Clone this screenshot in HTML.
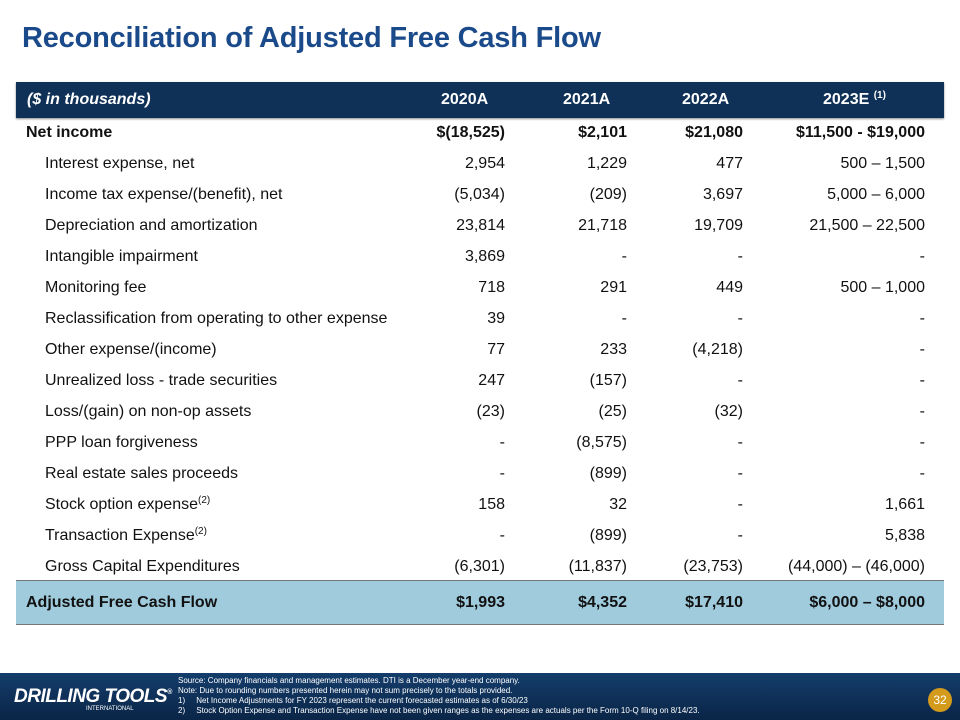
<!DOCTYPE html>
<html><head><meta charset="utf-8"><style>
body{margin:0;width:960px;height:720px;position:relative;background:#fff;font-family:"Liberation Sans",sans-serif;overflow:hidden}
.a{position:absolute;white-space:nowrap}
.t{left:22px;top:22px;font-size:29px;font-weight:bold;color:#1b4a8a;letter-spacing:-0.2px}
.hdr{left:16px;top:82px;width:928px;height:36px;background:#0f3057;box-shadow:0 1px 2px #888}
.h{top:91px;font-size:16px;font-weight:bold;color:#fff}
.row{font-size:16px;color:#111}
sup{font-size:10px;line-height:0;vertical-align:6px}
.adj{left:16px;top:580px;width:928px;height:43px;background:#9fcbdd;border-top:1px solid #777;border-bottom:1px solid #777}
.foot{left:0;top:673px;width:960px;height:47px;background:linear-gradient(#143d6b,#0a2547)}
.fn{color:#fff;font-size:8px;left:178px;line-height:10px}
</style></head><body>
<div class="a t">Reconciliation of Adjusted Free Cash Flow</div>
<div class="a hdr"></div>
<div class="a h" style="left:27px;font-style:italic">($ in thousands)</div>
<div class="a h" style="left:441px">2020A</div>
<div class="a h" style="left:563px">2021A</div>
<div class="a h" style="left:682px">2022A</div>
<div class="a h" style="left:823px">2023E <sup>(1)</sup></div>
<div class="a adj"></div>
<div id="rows"></div>
<div class="a foot"></div>
<div class="a" style="left:14px;top:686px;color:#fff;font-weight:bold;font-style:italic;font-size:19px;letter-spacing:-0.5px">DRILLING TOOLS<span style="font-size:7px;vertical-align:8px">®</span></div>
<div class="a" style="left:86px;top:706px;color:#fff;font-size:6px">INTERNATIONAL</div>
<div class="a fn" style="top:676px">Source: Company financials and management estimates. DTI is a December year-end company.<br>Note: Due to rounding numbers presented herein may not sum precisely to the totals provided.<br>1)&nbsp;&nbsp;&nbsp;&nbsp;&nbsp;Net Income Adjustments for FY 2023 represent the current forecasted estimates as of 6/30/23<br>2)&nbsp;&nbsp;&nbsp;&nbsp;&nbsp;Stock Option Expense and Transaction Expense have not been given ranges as the expenses are actuals per the Form 10-Q filing on 8/14/23.</div>
<div class="a" style="left:928px;top:688px;width:24px;height:24px;border-radius:50%;background:#d39a1c;color:#fff;font-size:12px;text-align:center;line-height:24px">32</div>
<script>
const labels=["Net income","Interest expense, net","Income tax expense/(benefit), net","Depreciation and amortization","Intangible impairment","Monitoring fee","Reclassification from operating to other expense","Other expense/(income)","Unrealized loss - trade securities","Loss/(gain) on non-op assets","PPP loan forgiveness","Real estate sales proceeds","Stock option expense<sup>(2)</sup>","Transaction Expense<sup>(2)</sup>","Gross Capital Expenditures","Adjusted Free Cash Flow"];
const v2020=["$(18,525)","2,954","(5,034)","23,814","3,869","718","39","77","247","(23)","-","-","158","-","(6,301)","$1,993"];
const v2021=["$2,101","1,229","(209)","21,718","-","291","-","233","(157)","(25)","(8,575)","(899)","32","(899)","(11,837)","$4,352"];
const v2022=["$21,080","477","3,697","19,709","-","449","-","(4,218)","-","(32)","-","-","-","-","(23,753)","$17,410"];
const v2023=["$11,500 - $19,000","500 – 1,500","5,000 – 6,000","21,500 – 22,500","-","500 – 1,000","-","-","-","-","-","-","1,661","5,838","(44,000) – (46,000)","$6,000 – $8,000"];
const rights=[455,333,217,35];
const c=document.getElementById('rows');
labels.forEach((l,i)=>{
 const top=i<15?124+i*31:594;
 const bold=(i==0||i==15);
 const d=document.createElement('div');d.className='a row';
 
 
 d.style.left=(bold?26:45)+'px';d.style.top=top+'px';d.style.fontWeight=bold?'bold':'normal';d.innerHTML=l;c.appendChild(d);
 [v2020,v2021,v2022,v2023].forEach((arr,j)=>{
  const e=document.createElement('div');e.className='a row';
  
  
  e.style.right=rights[j]+'px';e.style.top=top+'px';e.style.fontWeight=bold?'bold':'normal';e.textContent=arr[i];c.appendChild(e);
 });
});
</script>
</body></html>
